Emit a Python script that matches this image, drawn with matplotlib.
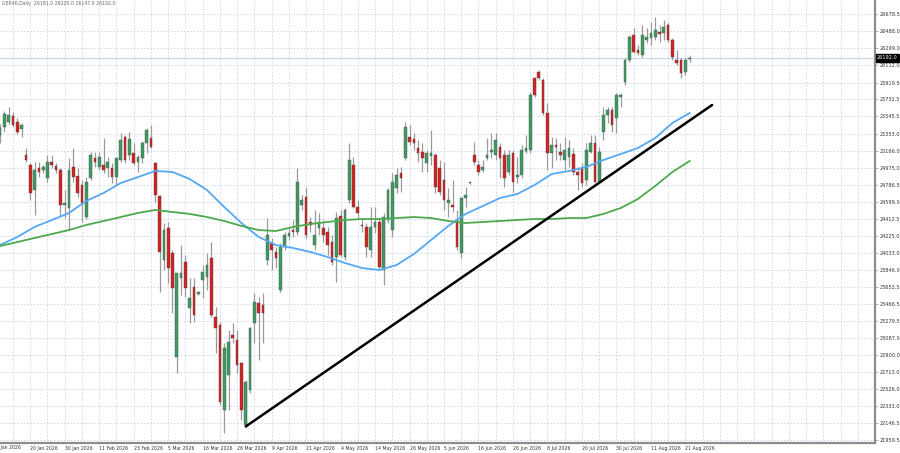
import numpy as np
import matplotlib
matplotlib.use("Agg")
import matplotlib.pyplot as plt

# daily candles, bar index 0..160 (trading days)
opens = [25339, 25427, 25483, 25549, 25483, 25405, 25117, 25006, 24729, 24973,
         24951, 24862, 25040, 24995, 24951, 24563, 24530, 24984, 24884, 24785,
         24430, 24862, 25084, 24984, 25006, 24973, 24973, 24873, 25062, 25316,
         25117, 25139, 25040, 25084, 25250, 25305, 25028, 24663, 23954, 24308,
         24032, 22880, 23755, 23932, 23422, 23655, 23577, 23732, 23766, 23976,
         23323, 23234, 22292, 22680, 23123, 23068, 22813, 22126, 22514, 23256,
         23478, 23456, 23954, 24142, 24043, 23622, 24098, 24220, 24286, 24264,
         24563, 24652, 24375, 24120, 24308, 24308, 24264, 24153, 23987, 24441,
         23987, 24619, 25006, 24541, 24342, 24320, 24065, 24320, 24375, 23843,
         24397, 24286, 24752, 24918, 25084, 25316, 25294, 25195, 25150, 25028,
         25106, 25117, 24973, 24840, 24585, 24563, 24397, 24032, 24641, 24807,
         25117, 25006, 24951, 25084, 25150, 25117, 25206, 25117, 24929, 25139,
         24873, 24896, 25161, 25172, 25970, 26037, 25948, 25582, 25139, 25228,
         25150, 25062, 25095, 25128, 24929, 24973, 24840, 25150, 25250, 24818,
         25372, 25560, 25616, 25527, 25760, 25926, 26169, 26446, 26280, 26225,
         26391, 26413, 26424, 26480, 26469, 26557, 26391, 26169, 26169, 26037,
         26181]
highs = [25460, 25604, 25649, 25593, 25527, 25471, 25195, 25028, 25040, 25040,
         25006, 25117, 25117, 25028, 24973, 24729, 25084, 25195, 24973, 24840,
         24873, 25150, 25150, 25150, 25305, 25095, 25028, 25095, 25361, 25339,
         25372, 25250, 25117, 25272, 25416, 25449, 25040, 24674, 24364, 24375,
         24065, 23810, 24120, 24009, 23755, 23755, 23611, 23899, 24032, 24153,
         23433, 23267, 23035, 23179, 23256, 23179, 22824, 22625, 23212, 23588,
         23544, 23588, 24419, 24198, 24098, 24142, 24264, 24308, 24397, 24973,
         24674, 24763, 24430, 24508, 24475, 24397, 24320, 24231, 24486, 24508,
         24530, 25250, 25095, 24619, 24419, 24364, 24541, 24541, 24419, 24475,
         24752, 24918, 24973, 24984, 25483, 25449, 25361, 25283, 25250, 25172,
         25394, 25139, 25062, 25040, 24752, 24840, 24508, 24652, 24763, 24818,
         25261, 25062, 25062, 25305, 25361, 25361, 25250, 25172, 25172, 25172,
         25095, 25228, 25339, 25815, 25981, 26059, 25970, 25693, 25316, 25305,
         25250, 25316, 25283, 25195, 24984, 25028, 25250, 25339, 25339, 25206,
         25649, 25649, 25649, 25804, 25804, 26192, 26446, 26524, 26336, 26557,
         26524, 26590, 26646, 26557, 26613, 26579, 26413, 26280, 26192, 26192,
         26225]
lows = [25250, 25372, 25460, 25427, 25350, 25316, 25040, 24619, 24452, 24873,
        24918, 24818, 24973, 24918, 24430, 24419, 24286, 24818, 24652, 24375,
        24408, 24840, 24984, 24951, 24918, 24873, 24807, 24785, 25040, 25028,
        25062, 25006, 24929, 25028, 25139, 25195, 24596, 23600, 23843, 23699,
        23367, 22702, 23566, 23544, 23256, 23267, 23566, 23533, 23622, 23323,
        22924, 22348, 22038, 22292, 23035, 22702, 22182, 22104, 22481, 23035,
        22846, 23035, 23899, 23843, 23865, 23600, 24065, 24176, 24209, 24231,
        24508, 24198, 24264, 24065, 24231, 24153, 24009, 23899, 23710, 23987,
        23954, 24585, 24530, 24419, 24264, 23987, 23987, 24253, 23843, 23677,
        24364, 24209, 24696, 24707, 25062, 25228, 25172, 25040, 24929, 24929,
        25006, 24696, 24674, 24508, 24430, 24486, 24065, 23976, 24541, 24796,
        25006, 24896, 24929, 25062, 25084, 25062, 24862, 24763, 24896, 24707,
        24807, 24862, 25139, 25139, 25760, 25948, 25560, 24951, 24973, 25062,
        25062, 24951, 24984, 24896, 24729, 24763, 24785, 25139, 24807, 24807,
        25283, 25472, 25372, 25361, 25649, 25893, 26147, 26247, 26225, 26203,
        26358, 26336, 26391, 26369, 26391, 26369, 26169, 26114, 25970, 26003,
        26147]
closes = [25416, 25571, 25560, 25449, 25372, 25449, 25062, 24696, 24951, 24929,
          24984, 25040, 25006, 24951, 24563, 24585, 24951, 24873, 24696, 24585,
          24818, 25117, 25040, 25095, 24951, 25040, 24873, 25084, 25283, 25062,
          25294, 25028, 25095, 25250, 25394, 25206, 24674, 24043, 24286, 23865,
          23644, 23810, 23810, 23644, 23533, 23345, 23600, 23821, 23899, 23345,
          23201, 22381, 22979, 23046, 23090, 22791, 22292, 22603, 23201, 23489,
          23367, 23367, 24231, 24065, 23976, 24098, 24231, 24253, 24264, 24818,
          24619, 24231, 24342, 24231, 24375, 24231, 24120, 23932, 24419, 24009,
          24508, 25062, 24541, 24475, 24331, 24098, 24320, 24375, 23876, 24430,
          24729, 24818, 24896, 24862, 25427, 25261, 25250, 25139, 25084, 25139,
          25139, 24763, 24707, 24619, 24619, 24541, 24098, 24641, 24674, 24818,
          25040, 24929, 24984, 25117, 25172, 25283, 25084, 24862, 25117, 24818,
          24896, 25172, 25195, 25782, 25782, 25970, 25582, 25139, 25228, 25206,
          25117, 25172, 25195, 24929, 24896, 24807, 25172, 25250, 24818, 25150,
          25560, 25616, 25449, 25782, 25782, 26169, 26424, 26258, 26247, 26446,
          26424, 26469, 26502, 26457, 26535, 26391, 26203, 26136, 26025, 26169,
          26192]

# moving averages, read every 4 bars
ma_idx = list(range(0, 161, 4))
ma_fast = [24120, 24209, 24320, 24397, 24475, 24608, 24696, 24807, 24873, 24940,
           24929, 24851, 24729, 24541, 24364, 24209, 24120, 24087, 24043, 23987,
           23921, 23865, 23843, 23899, 24020, 24176, 24331, 24464, 24552, 24641,
           24685, 24785, 24907, 24940, 24984, 25062, 25128, 25195, 25305, 25472,
           25582]
ma_slow = [24109, 24153, 24198, 24242, 24286, 24342, 24386, 24430, 24475, 24508,
           24486, 24464, 24430, 24386, 24331, 24286, 24275, 24320, 24353, 24375,
           24397, 24408, 24408, 24419, 24430, 24419, 24386, 24364, 24375, 24386,
           24397, 24408, 24408, 24419, 24419, 24464, 24530, 24630, 24774, 24929,
           25051]

# hand-drawn trend line
trend_x = [57, 165.2]
trend_y = [22110, 25671]

yticks = [26678.5, 26488.0, 26299.0, 26112.0, 25919.5, 25732.5, 25545.5, 25353.0,
          25166.0, 24975.0, 24786.5, 24599.0, 24412.5, 24225.0, 24033.0, 23846.0,
          23653.5, 23466.5, 23279.5, 23087.0, 22900.0, 22713.0, 22526.0, 22333.0,
          22146.5, 21959.5]
date_labels = ["20 Jan 2026", "30 Jan 2026", "11 Feb 2026", "23 Feb 2026", "5 Mar 2026",
               "16 Mar 2026", "26 Mar 2026", "9 Apr 2026", "21 Apr 2026", "4 May 2026",
               "14 May 2026", "26 May 2026", "5 Jun 2026", "16 Jun 2026", "26 Jun 2026",
               "8 Jul 2026", "20 Jul 2026", "30 Jul 2026", "11 Aug 2026", "21 Aug 2026"]
date_pos = list(range(7, 160, 8))

o = np.array(opens, float)
h = np.array(highs, float)
l = np.array(lows, float)
c = np.array(closes, float)
x = np.arange(len(o))
up = c >= o

fig = plt.figure(figsize=(9, 4.53), dpi=100)
ax = fig.add_axes([0, 10 / 453, 875 / 900, 443 / 453])
ax.set_xlim(-0.02, 203)
ax.set_ylim(21927, 26834)

# grid
ax.set_yticks(yticks)
ax.set_yticklabels(["%.1f" % v for v in yticks])
for v in yticks:
    ax.axhline(v, color="#c9d3e6", lw=0.6, ls=(0, (2, 2)), zorder=0)
for gx in range(3, 203, 4):
    ax.axvline(gx, color="#c9d3e6", lw=0.6, ls=(0, (2, 2)), zorder=0)

# candles
ax.vlines(x, l, h, color="#9a9a9a", lw=0.9, zorder=2)
body = np.maximum(np.abs(c - o), 8)
bottom = np.minimum(o, c)
ax.bar(x[up], body[up], bottom=bottom[up], width=0.62, color="#3f9a62",
       edgecolor="#4a5a50", linewidth=0.3, zorder=3)
ax.bar(x[~up], body[~up], bottom=bottom[~up], width=0.62, color="#d42222",
       edgecolor="#5a4040", linewidth=0.3, zorder=3)

ax.plot(ma_idx, ma_fast, color="#55a8f5", lw=1.3, zorder=4)
ax.plot(ma_idx, ma_slow, color="#4caa4c", lw=1.3, zorder=4)
ax.plot(trend_x, trend_y, color="black", lw=1.8, zorder=5, solid_capstyle="round")

# current price line and box
ax.axhline(c[-1], color="#c5d2e8", lw=0.8, zorder=1)
ax.annotate("%.1f" % c[-1], xy=(1.0, c[-1]), xycoords=("axes fraction", "data"),
            xytext=(1.5, 0), textcoords="offset points", va="center", ha="left",
            fontsize=3.6, color="white",
            bbox=dict(boxstyle="square,pad=0.25", fc="black", ec="black"))

# axes styling
for side in ["top", "left"]:
    ax.spines[side].set_visible(False)
for side in ["right", "bottom"]:
    ax.spines[side].set_color("#8c8c8c")
    ax.spines[side].set_linewidth(1.6)
ax.yaxis.tick_right()
ax.tick_params(axis="y", labelsize=3.6, labelcolor="#333333", length=2,
               width=0.5, color="#8c8c8c", pad=1.5)
ax.set_xticks(date_pos)
ax.set_xticklabels(date_labels)
ax.tick_params(axis="x", labelsize=3.3, labelcolor="#333333", length=0, pad=2)
for lab in ax.get_xticklabels():
    lab.set_ha("left")
ax.text(-1, -0.004, "8 Jan 2026", transform=ax.get_xaxis_transform(), ha="left",
        va="top", fontsize=3.3, color="#333333", clip_on=False)

ax.text(0.002, 0.998, "GER40,Daily  %.1f %.1f %.1f %.1f" % (o[-1], h[-1], l[-1], c[-1]),
        transform=ax.transAxes, ha="left", va="top", fontsize=3.3, color="#666666")

fig.savefig("out.png", dpi=100)
